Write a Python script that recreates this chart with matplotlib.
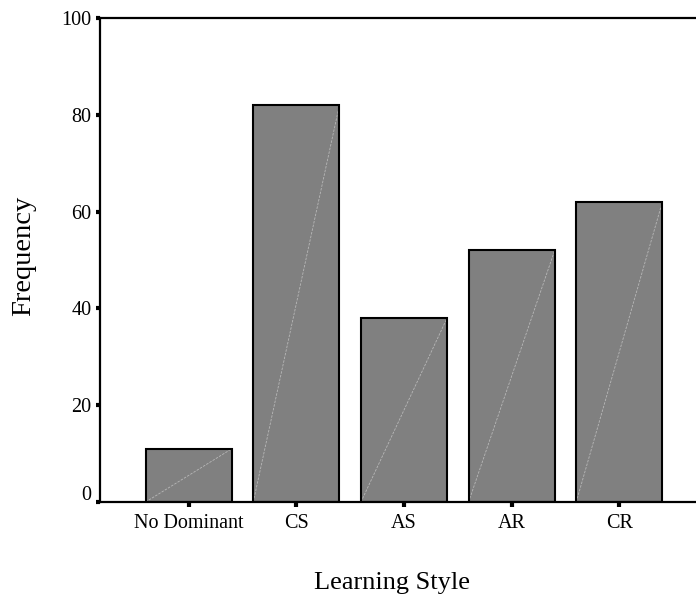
import matplotlib
matplotlib.use('Agg')
import matplotlib.pyplot as plt
import matplotlib.transforms as mtransforms
import numpy as np

categories = ['No Dominant', 'CS', 'AS', 'AR', 'CR']
frequency = [11, 82, 38, 52, 62]
y_ticks = [0, 20, 40, 60, 80, 100]

plt.rcParams['font.family'] = ['Liberation Serif', 'DejaVu Serif']

W, H = 696, 600
fig = plt.figure(figsize=(W / 100, H / 100), dpi=100)
left, right, top, bottom = 100, 708, 18, 502
ax = fig.add_axes([left / W, 1 - bottom / H, (right - left) / W, (bottom - top) / H])

x = np.arange(len(categories))
width = 0.8
ax.bar(x, frequency, width=width, color='#808080', edgecolor='none', zorder=2)
for xi, v in zip(x, frequency):
    ax.plot([xi - width / 2, xi + width / 2], [0, v], color='#b8b8b8', lw=0.6,
            ls=(0, (3, 1.5)), zorder=3)
ax.bar(x, frequency, width=width, fill=False, edgecolor='black', linewidth=1.5, zorder=4)

ax.set_xlim(-0.824, 4.824)
ax.set_ylim(0, 100)
ax.set_xticks(x)
ax.set_xticklabels(categories, fontsize=14.5)
ax.set_yticks(y_ticks)
ax.set_yticklabels([str(t) for t in y_ticks], fontsize=14.5)

for s in ['left', 'top', 'bottom']:
    ax.spines[s].set_linewidth(1.6)
    ax.spines[s].set_color('black')
ax.spines['right'].set_visible(False)

ax.tick_params(axis='y', direction='out', length=3, width=3, pad=3, colors='black')
ax.tick_params(axis='x', direction='out', length=3.5, width=3, pad=5, colors='black')

# raise the "0" label slightly as in the reference
lbl0 = ax.get_yticklabels()[0]
lbl0.set_transform(lbl0.get_transform() + mtransforms.ScaledTranslation(0, 9 / 100, fig.dpi_scale_trans))

fig.text(24 / W, 1 - 256 / H, 'Frequency', rotation=90, ha='center', va='center', fontsize=20.5)
fig.text(392 / W, 1 - 583 / H, 'Learning Style', ha='center', va='center', fontsize=19)

fig.savefig('out.png', dpi=100)
